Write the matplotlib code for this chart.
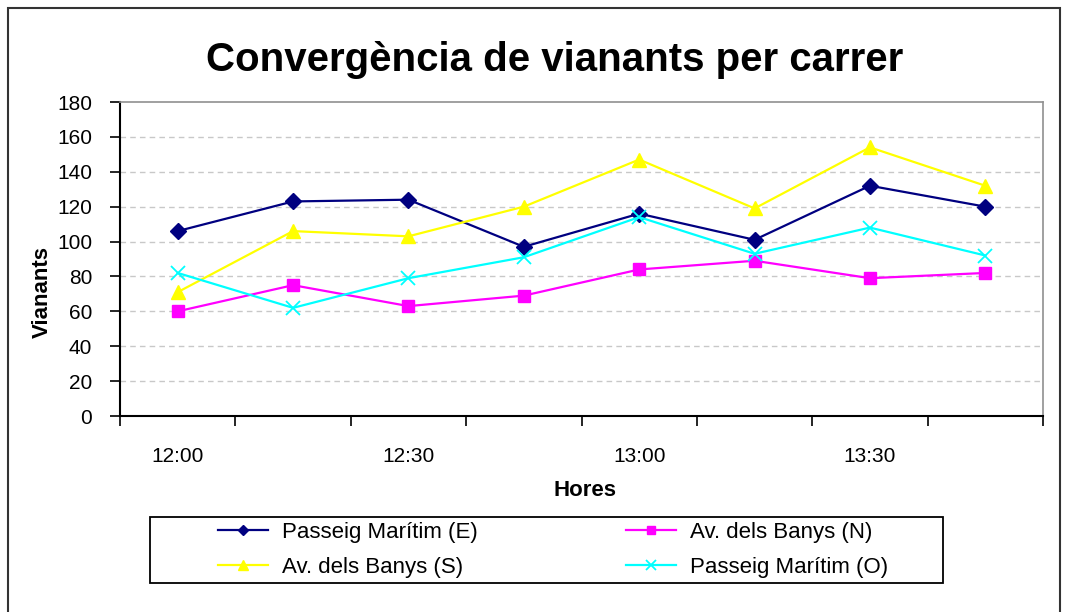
import matplotlib.pyplot as plt
from matplotlib.patches import Rectangle

plt.rcParams['font.family'] = ['Liberation Sans', 'DejaVu Sans']

# Data (vianants every 15 minutes)
hores = ['12:00', '12:15', '12:30', '12:45', '13:00', '13:15', '13:30', '13:45']
passeig_e = [106, 123, 124, 97, 116, 101, 132, 120]
banys_n = [60, 75, 63, 69, 84, 89, 79, 82]
banys_s = [71, 106, 103, 120, 147, 119, 154, 132]
passeig_o = [82, 62, 79, 91, 114, 93, 108, 92]

W, H = 1066, 612
fig = plt.figure(figsize=(W / 100, H / 100), dpi=100)

# outer chart border
fig.patches.append(Rectangle((8 / W, -0.05), 1052 / W, 1.05 - 8 / H,
                             transform=fig.transFigure, fill=False,
                             edgecolor='#333333', linewidth=1.5))
# legend box
fig.patches.append(Rectangle((150 / W, 1 - 583 / H), (943 - 150) / W, 66 / H,
                             transform=fig.transFigure, fill=False,
                             edgecolor='black', linewidth=1.3))

ax = fig.add_axes([120 / W, 1 - 416 / H, (1043 - 120) / W, (416 - 102) / H])

x = list(range(len(hores)))
l1, = ax.plot(x, passeig_e, color='#000080', marker='D', markersize=8,
              linewidth=1.6, label='Passeig Marítim (E)')
l2, = ax.plot(x, banys_n, color='#FF00FF', marker='s', markersize=9,
              linewidth=1.6, label='Av. dels Banys (N)')
l3, = ax.plot(x, banys_s, color='#FFFF00', marker='^', markersize=10,
              linewidth=1.6, label='Av. dels Banys (S)')
l4, = ax.plot(x, passeig_o, color='#00FFFF', marker='x', markersize=10,
              markeredgewidth=1.3, linewidth=1.6, label='Passeig Marítim (O)')

ax.set_xlim(-0.5, len(hores) - 0.5)
ax.set_ylim(0, 180)
ax.set_yticks(range(0, 181, 20))
ax.tick_params(axis='y', labelsize=15, length=7, width=1.2, direction='out', pad=13)

# category boundaries as major ticks, labels every 30 min as minor ticks
ax.set_xticks([i - 0.5 for i in range(len(hores) + 1)])
ax.set_xticklabels([])
ax.tick_params(axis='x', which='major', length=7, width=1.2, direction='out')
ax.set_xticks(x[::2], minor=True)
ax.set_xticklabels(hores[::2], minor=True)
ax.tick_params(axis='x', which='minor', length=0, labelsize=15, pad=22)

for yv in range(20, 180, 20):
    ax.axhline(yv, color='#C8C8C8', linestyle=(0, (4, 3)), linewidth=1, zorder=0)

ax.spines['left'].set_linewidth(1.5)
ax.spines['bottom'].set_linewidth(1.5)
ax.spines['top'].set_color('#909090')
ax.spines['right'].set_color('#909090')
ax.spines['top'].set_linewidth(1.2)
ax.spines['right'].set_linewidth(1.2)

fig.text(555 / W, 1 - 60 / H, 'Convergència de vianants per carrer',
         ha='center', va='center', fontsize=29, fontweight='bold')
fig.text(42 / W, 1 - 292 / H, 'Vianants', ha='center', va='center',
         rotation=90, fontsize=16, fontweight='bold')
fig.text(585 / W, 1 - 491 / H, 'Hores', ha='center', va='center',
         fontsize=16, fontweight='bold')

leg = fig.legend([l1, l3, l2, l4],
                 ['Passeig Marítim (E)', 'Av. dels Banys (S)',
                  'Av. dels Banys (N)', 'Passeig Marítim (O)'],
                 ncol=2, loc='center', bbox_to_anchor=(553 / W, 1 - 550 / H),
                 fontsize=16, frameon=False, handlelength=2.25, columnspacing=6.7,
                 borderpad=0, labelspacing=0.62, handletextpad=0.6,
                 markerscale=0.7)

fig.savefig('out.png', dpi=100)
